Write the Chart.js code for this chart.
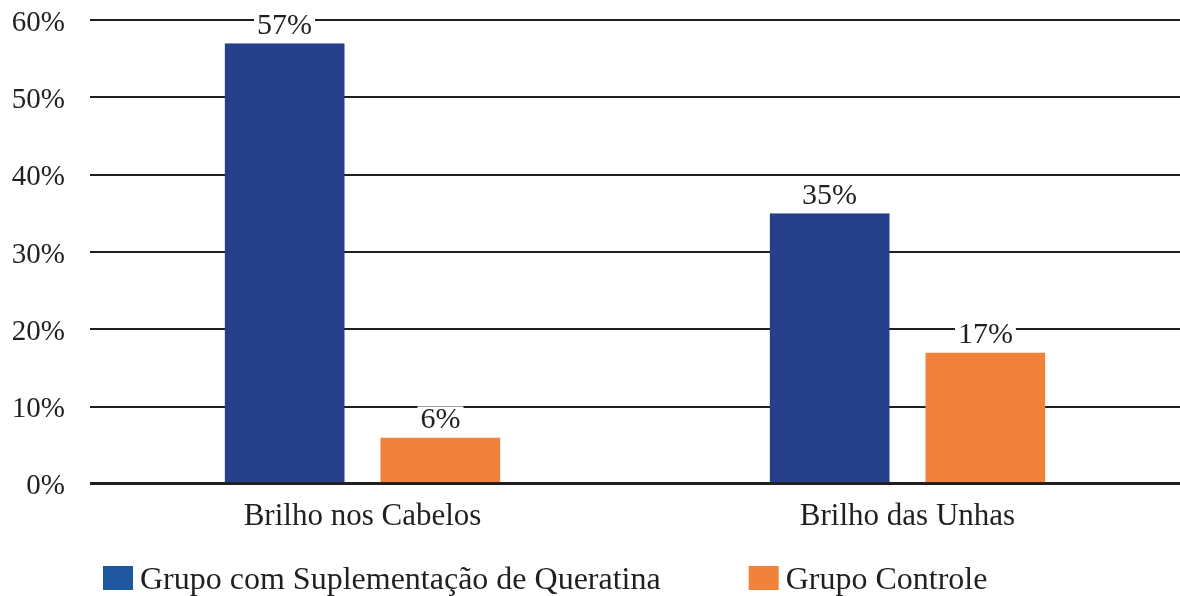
<!DOCTYPE html>
<html>
<head>
<meta charset="utf-8">
<script src="https://cdn.jsdelivr.net/npm/chart.js@4.4.1/dist/chart.umd.min.js"></script>
<style>
  html, body { margin: 0; padding: 0; background: #fff; }
  #wrap { width: 1180px; height: 596px; }
</style>
</head>
<body>
<div id="wrap"><canvas id="chart"></canvas></div>
<script>
// ── data ──
const categories = ['Brilho nos Cabelos', 'Brilho das Unhas'];
const seriesNames = ['Grupo com Suplementação de Queratina', 'Grupo Controle'];
const queratina = [57, 35];
const controle = [6, 17];
const yTicks = [0, 10, 20, 30, 40, 50, 60];

const BLUE = '#253f8b', ORANGE = '#f0823c', LEGEND_BLUE = '#1f57a0';
const INK = '#231f20';
const FONT = '"Liberation Serif", "DejaVu Serif", serif';

// value labels above bars, white box behind so the grid line is broken
const barLabels = {
  id: 'barLabels',
  afterDatasetsDraw(chart) {
    const ctx = chart.ctx;
    ctx.save();
    ctx.font = `30px ${FONT}`;
    ctx.textAlign = 'center';
    ctx.textBaseline = 'alphabetic';
    chart.data.datasets.forEach((ds, di) => {
      const meta = chart.getDatasetMeta(di);
      meta.data.forEach((bar, i) => {
        const b = ds.borderWidth;
        const cx = bar.x + ((b.left || 0) - (b.right || 0)) / 2;
        const txt = ds.data[i] + '%';
        const w = ctx.measureText(txt).width;
        const base = bar.y - 9;
        ctx.fillStyle = '#fff';
        ctx.fillRect(cx - w / 2 - 3, base - 22, w + 6, 25);
        ctx.fillStyle = INK;
        ctx.fillText(txt, cx, base);
      });
    });
    ctx.restore();
  }
};

// legend row at the bottom
const bottomLegend = {
  id: 'bottomLegend',
  afterDraw(chart) {
    const ctx = chart.ctx;
    const colors = [LEGEND_BLUE, ORANGE];
    ctx.save();
    ctx.font = `32px ${FONT}`;
    ctx.textBaseline = 'alphabetic';
    let x = 103;
    seriesNames.forEach((name, i) => {
      ctx.fillStyle = colors[i];
      ctx.fillRect(x, 566, 30, 24);
      ctx.fillStyle = INK;
      ctx.fillText(name, x + 37, 589);
      x += 37 + ctx.measureText(name).width + 88;
    });
    ctx.restore();
  }
};

new Chart(document.getElementById('chart'), {
  type: 'bar',
  data: {
    labels: categories,
    datasets: [
      { label: seriesNames[0], data: queratina, backgroundColor: BLUE, borderColor: 'rgba(0,0,0,0)',
        borderWidth: { left: 0, right: 18, top: 0, bottom: 0 }, borderSkipped: false },
      { label: seriesNames[1], data: controle, backgroundColor: ORANGE, borderColor: 'rgba(0,0,0,0)',
        borderWidth: { left: 18, right: 0, top: 0, bottom: 0 }, borderSkipped: false }
    ]
  },
  options: {
    responsive: true, maintainAspectRatio: false, animation: false,
    layout: { padding: { top: 0, right: 0, bottom: 47, left: 0 } },
    plugins: { legend: { display: false }, tooltip: { enabled: false } },
    datasets: { bar: { categoryPercentage: 0.506, barPercentage: 1 } },
    scales: {
      x: {
        grid: { display: false, drawTicks: false },
        border: { display: false },
        ticks: { color: INK, font: { family: FONT, size: 31 }, padding: 14 }
      },
      y: {
        min: 0, max: 60,
        afterFit(scale) { scale.width = 90; scale.paddingTop = 20; scale.paddingBottom = 17; },
        afterBuildTicks(scale) { scale.ticks = yTicks.map(v => ({ value: v })); },
        grid: { color: INK, lineWidth: c => (c.tick && c.tick.value === 0 ? 3 : 2), drawTicks: false },
        border: { display: false },
        ticks: { color: INK, font: { family: FONT, size: 29 }, padding: 25, labelOffset: 3, callback: v => v + '%' }
      }
    }
  },
  plugins: [barLabels, bottomLegend]
});
</script>
</body>
</html>
